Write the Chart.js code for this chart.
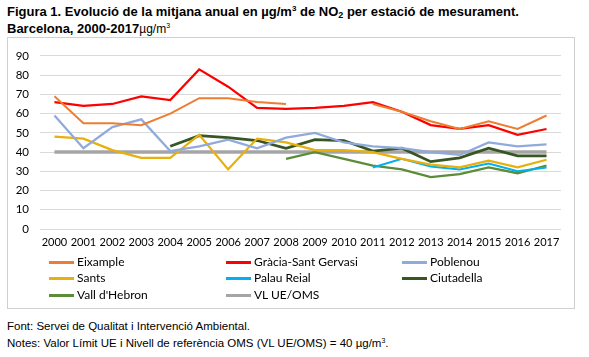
<!DOCTYPE html>
<html>
<head>
<meta charset="utf-8">
<script src="https://cdn.jsdelivr.net/npm/chart.js@4/dist/chart.umd.min.js"></script>
<style>
  html, body { margin: 0; padding: 0; background: #fff; }
  body { width: 589px; height: 357px; position: relative; overflow: hidden; }
  #title { position: absolute; left: 7px; top: 3px; font: bold 13px "Liberation Sans", Arial, sans-serif; color: #000; line-height: 17px; white-space: nowrap; }
  #title .n { font-weight: normal; font-size: 12px; }
  #box { position: absolute; left: 7px; top: 37px; width: 566px; height: 270px; border: 1px solid #d0d0d0; box-sizing: content-box; }
  #wrap { position: absolute; left: 0; top: 0; width: 566px; height: 214px; }
  #legend { position: absolute; left: 0; top: 0; width: 566px; height: 270px; font: 12px Lato, "Open Sans", sans-serif; color: #000; }
  .li { position: absolute; height: 14px; line-height: 14px; white-space: nowrap; }
  .li span.sw { position: absolute; left: 0; top: 6px; width: 25px; height: 3px; }
  .li span.tx { position: absolute; left: 28px; top: 0; }
  #foot { position: absolute; left: 7px; top: 318px; font: 11.5px "Liberation Sans", Arial, sans-serif; color: #000; line-height: 17px; white-space: nowrap; }
</style>
</head>
<body>
<div id="title">Figura 1. Evolució de la mitjana anual en µg/m<sup style="font-size:8px;vertical-align:5px;line-height:0">3</sup> de NO<sub style="font-size:9px;vertical-align:-2px;line-height:0">2</sub> per estació de mesurament.<br>Barcelona, 2000-2017<span class="n">µg/m<sup style="font-size:7px;vertical-align:5px;line-height:0">3</sup></span></div>
<div id="box">
  <div id="wrap"><canvas id="c"></canvas></div>
  <div id="legend"></div>
</div>
<div id="foot"><span id="f1">Font: Servei de Qualitat i Intervenció Ambiental.</span><br>Notes: Valor Límit UE i Nivell de referència OMS (VL UE/OMS) = 40 µg/m<sup style="font-size:7px;vertical-align:4px;line-height:0">3</sup>.</div>
<script>
const years = ['2000','2001','2002','2003','2004','2005','2006','2007','2008','2009','2010','2011','2012','2013','2014','2015','2016','2017'];
const yTicks = [0,10,20,30,40,50,60,70,80,90];

const eixample     = [69, 55, 55, 54, 60, 68, 68, 66, 65, null, null, 65, 61, 56, 52, 56, 52, 59];
const gracia       = [66, 64, 65, 69, 67, 83, 74, 63, 62.5, 63, 64, 66, 61, 54, 52, 54, 49, 52];
const poblenou     = [59, 42, 53, 57, 40.5, 43, 46.5, 42, 47.5, 50, 45, 43, 42, 40, 38.5, 45, 43, 44];
const sants        = [48, 47, 41, 37, 37, 49, 31, 47, 45, 41, 41, 40, 36.5, 33.5, 32, 35.5, 32, 36];
const palauReial   = [null, null, null, null, null, null, null, null, null, null, null, 32, 36.5, 32.5, 31, 34, 30, 32];
const ciutadella   = [null, null, null, null, 43, 48.5, 47.5, 46, 42, 46.5, 46, 40.5, 42, 35, 37, 42, 38, 38];
const vallHebron   = [null, null, null, null, null, null, null, null, 36.5, 40, 36.5, 33, 31, 27, 28.5, 32, 29, 33];
const vlUeOms      = [40, 40, 40, 40, 40, 40, 40, 40, 40, 40, 40, 40, 40, 40, 40, 40, 40, 40];

const seriesNames  = ['Eixample', 'Gràcia-Sant Gervasi', 'Poblenou', 'Sants', 'Palau Reial', 'Ciutadella', "Vall d'Hebron", 'VL UE/OMS'];
const seriesData   = [eixample, gracia, poblenou, sants, palauReial, ciutadella, vallHebron, vlUeOms];
const seriesColors = ['#ED7D31', '#FF0000', '#8FAADC', '#E8B00C', '#00B0F0', '#375623', '#5B8C3A', '#A5A5A5'];
const seriesWidths = [2, 2.25, 2.25, 2.25, 2, 2.75, 2.25, 3.5];

const datasets = seriesNames.map((n, i) => ({
  label: n,
  data: seriesData[i],
  borderColor: seriesColors[i],
  backgroundColor: seriesColors[i],
  borderWidth: seriesWidths[i],
  pointRadius: 0,
  pointHoverRadius: 0,
  tension: 0,
  spanGaps: false,
  fill: false,
  order: i === 7 ? 10 : i
}));

new Chart(document.getElementById('c'), {
  type: 'line',
  data: { labels: years, datasets },
  options: {
    responsive: true,
    maintainAspectRatio: false,
    animation: false,
    events: [],
    layout: { padding: { left: 0, right: 13, top: 14, bottom: 0 } },
    plugins: { legend: { display: false }, tooltip: { enabled: false }, title: { display: false } },
    scales: {
      x: {
        offset: true,
        grid: { display: false, drawTicks: false },
        border: { display: false },
        ticks: { color: '#000', font: { family: 'Lato, "Open Sans", sans-serif', size: 11 }, padding: 7, maxRotation: 0, autoSkip: false },
        afterFit: (s) => { s.height = 23; }
      },
      y: {
        min: 0, max: 90,
        afterBuildTicks: (s) => { s.ticks = yTicks.map(v => ({ value: v })); },
        grid: { color: '#D9D9D9', lineWidth: 1, drawTicks: false },
        border: { display: false },
        ticks: { color: '#000', font: { family: 'Lato, "Open Sans", sans-serif', size: 11.5 }, padding: 11 },
        afterFit: (s) => { s.width = 32; }
      }
    }
  }
});

const legend = document.getElementById('legend');
const colX = [41, 218, 394];
const rowY = [217, 233, 250];
seriesNames.forEach((n, i) => {
  const d = document.createElement('div');
  d.className = 'li';
  d.style.left = colX[i % 3] + 'px';
  d.style.top = rowY[Math.floor(i / 3)] + 'px';
  const sw = document.createElement('span');
  sw.className = 'sw';
  sw.style.background = seriesColors[i];
  const tx = document.createElement('span');
  tx.className = 'tx';
  tx.textContent = n;
  d.appendChild(sw); d.appendChild(tx);
  legend.appendChild(d);
});
</script>
</body>
</html>
